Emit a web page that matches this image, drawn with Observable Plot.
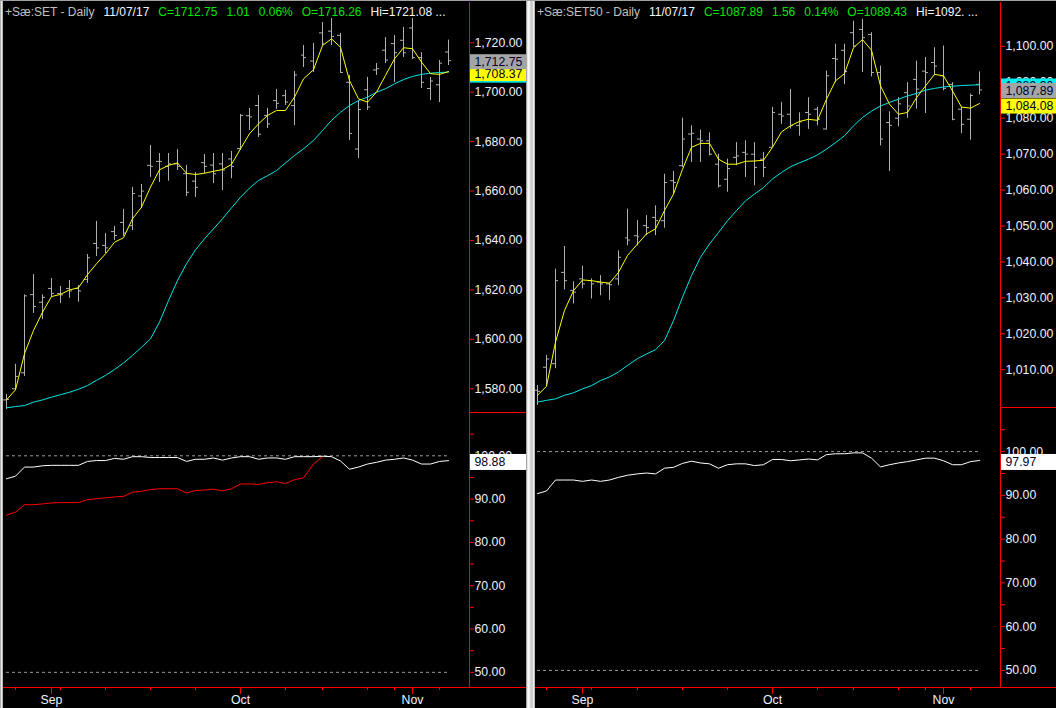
<!DOCTYPE html>
<html><head><meta charset="utf-8">
<script src="https://cdn.jsdelivr.net/npm/d3@7"></script>
<script src="https://cdn.jsdelivr.net/npm/@observablehq/plot@0.6"></script>
<style>
html,body{margin:0;padding:0;background:#000;}
#root{position:relative;width:1056px;height:708px;overflow:hidden;background:#000;font-family:"Liberation Sans",Arial,sans-serif;}
.abs{position:absolute;}
.title{position:absolute;top:5px;font-size:12px;line-height:14px;white-space:pre;z-index:5;}
.title span{margin-right:9px;}
.g{color:#00e600;} .w{color:#f4f6ff;} .n{color:#c0c0c0;}
.sep{position:absolute;top:0;height:708px;background:linear-gradient(to right,#707070 0,#dcdcdc 1px,#ffffff 3px,#c4c4c4 5px,#d8d8d8 7px,#ffffff 8px,#808080 9px);}
</style></head>
<body><div id="root">
<div class="abs" style="left:0;top:0;width:1056px;height:1px;background:#a0a0a0;z-index:6"></div>
<div class="sep" style="left:0;width:3px;background:linear-gradient(to right,#909090,#e8e8e8,#a0a0a0)"></div>
<div class="sep" style="left:526px;width:9px;"></div>
<div class="title" id="t1" style="left:5px"></div>
<div class="title" id="t2" style="left:537px"></div>
</div>
<script>
// ---------- data ----------
const dates = ["2017-08-25","2017-08-28","2017-08-29","2017-08-30","2017-08-31",
"2017-09-01","2017-09-04","2017-09-05","2017-09-06","2017-09-07","2017-09-08",
"2017-09-11","2017-09-12","2017-09-13","2017-09-14","2017-09-15",
"2017-09-18","2017-09-19","2017-09-20","2017-09-21","2017-09-22",
"2017-09-25","2017-09-26","2017-09-27","2017-09-28","2017-09-29",
"2017-10-02","2017-10-03","2017-10-04","2017-10-05","2017-10-06",
"2017-10-09","2017-10-10","2017-10-11","2017-10-12",
"2017-10-16","2017-10-17","2017-10-18","2017-10-19","2017-10-20",
"2017-10-24","2017-10-25","2017-10-27","2017-10-30","2017-10-31",
"2017-11-01","2017-11-02","2017-11-03","2017-11-06","2017-11-07"];

// SET
const setOpen  = [1575.5,1580,1586.5,1618.1,1615,1620.6,1618.5,1620.6,1620.6,1624.2,1638.8,1638,1643.6,1647.3,1646,1658,1670.4,1672,1670,1671,1667,1664,1671.5,1670.5,1671,1673,1677.2,1690.5,1694.6,1690.6,1696.6,1698.6,1694.6,1715,1712.6,1724,1724.7,1723,1704,1677,1701,1709,1717,1719.7,1721,1726,1714,1701.5,1703,1716.26];
const setHigh  = [1577.7,1589.9,1618,1626.2,1618,1624.6,1621.4,1623.8,1621.8,1634.3,1647.7,1642.8,1645.7,1652.6,1661.5,1662.7,1678.4,1675.2,1675.2,1676.8,1670.4,1667.5,1674.8,1675.2,1675.2,1676,1691,1693.4,1698.7,1693.4,1701.1,1700.7,1708.4,1718.9,1719.7,1728.2,1729.8,1723.8,1706.8,1696.6,1706,1711.6,1722.1,1722.9,1726.2,1729.8,1716,1706,1712.8,1721.08];
const setLow   = [1571.6,1579.3,1585,1610.5,1608,1617,1614.5,1616.6,1615,1622.6,1633.5,1634.7,1640,1641.7,1644,1653,1665.5,1663.5,1664,1668.3,1657.8,1657.4,1667,1663,1660.2,1665,1676.4,1684.5,1681.7,1685.3,1693,1694.6,1686.5,1710,1708,1718.9,1718.9,1707.6,1680.5,1673.2,1692.6,1706.8,1711.6,1703.9,1714,1713.2,1701.5,1696.6,1695.8,1710.8];
const setClose = [1575.7,1585,1617.6,1613.3,1617,1618.6,1618,1619.6,1619.6,1633,1637,1637,1642,1643,1659,1660,1670,1672,1671,1670,1659.5,1661.5,1670,1667,1668.5,1670,1690.6,1690,1683,1687.2,1695.5,1696,1707,1714,1710,1719.8,1722.5,1708,1683.3,1693,1694,1709.5,1713,1716,1716,1714,1704,1704.5,1711.74,1712.75];
const setMaShort = [1575.5,1579.6,1594.2,1603.6,1611,1617.3,1618.2,1620,1620.9,1626.2,1630.6,1634.6,1639.3,1641.1,1648.8,1653.5,1661.6,1668.6,1670.4,1671.4,1667.2,1666.7,1667.2,1668,1668.7,1670.8,1677.1,1683.2,1687.2,1690.6,1692.6,1692.6,1698,1705.4,1709.1,1718.9,1721.6,1718.2,1704.7,1697.3,1696,1700,1706.8,1713.5,1718,1717.6,1712.2,1707.5,1707.2,1708.37];
const setMaLong  = [1572.3,1572.8,1573.2,1574.6,1575.5,1576.6,1577.6,1578.6,1579.8,1581.3,1583.4,1585.4,1587.8,1590.4,1593.5,1596.8,1600.2,1607,1615.7,1623.8,1630.6,1636.2,1640.7,1644.7,1648.8,1653.2,1657.5,1661.2,1664.3,1666.2,1668.3,1671.4,1674.4,1677.1,1680.5,1684.5,1688.6,1691.9,1694.6,1696.6,1698,1700,1701.4,1703.4,1705.1,1706.4,1707.2,1707.7,1708,1708.1];
const setIndWhite = [94.7,95.3,97.4,97.4,97.7,97.8,97.8,97.8,97.8,98.7,98.9,98.9,99.4,99.2,99.8,99.8,99.6,99.6,99.6,99.6,98.7,99.2,99.2,99.5,99.0,99.5,99.8,99.8,99.2,99.5,99.5,99.2,99.8,99.8,99.8,99.9,99.8,98.8,96.9,97.4,98.1,98.5,99.0,99.2,99.5,99.0,98.1,98.1,98.7,98.88];
const setIndRed = [86.3,87.0,88.7,88.7,88.9,89.1,89.2,89.2,89.2,89.9,90.1,90.3,90.5,90.6,91.6,91.8,92.2,92.4,92.4,92.4,91.4,92.0,92.1,92.3,91.9,92.4,93.5,93.5,93.4,93.8,94.0,93.6,94.5,94.9,98.1,99.8,null,null,null,null,null,null,null,null,null,null,null,null,null,null];

// SET50
const s50Open  = [1004.3,1010.7,1011.7,1037.1,1032,1035.3,1034.8,1034.4,1033.9,1035.3,1046.7,1047.3,1050.1,1052.4,1051.5,1062.6,1066.8,1075.6,1074.2,1073.7,1067.2,1063,1069.1,1070.5,1070,1068.6,1071.9,1081.1,1081.1,1078,1081.6,1082.5,1077,1096.6,1098.9,1103.8,1104.7,1103.3,1092.7,1078.8,1080,1087.1,1090.8,1093.1,1095.5,1091.8,1089.4,1082.5,1079.7,1089.43];
const s50High  = [1005.6,1014,1038,1044.3,1034.5,1038.8,1035.3,1036.2,1034.1,1043.1,1054.7,1051.5,1052.9,1055.6,1064.4,1065.2,1080,1077.9,1076.7,1075.9,1070,1068.6,1073.2,1073.7,1073.2,1070.5,1083,1084.4,1088,1081.5,1085.7,1083,1093.1,1100.6,1100.6,1107,1107.5,1103.8,1094.5,1081.8,1085.7,1089.9,1095.9,1096.9,1099.6,1100.1,1089.9,1083,1086.7,1092.9];
const s50Low   = [1000.1,1005.2,1010.3,1032.2,1028.3,1032.5,1029.7,1030.6,1029.3,1033.4,1044.5,1044.5,1047.3,1047.3,1049.4,1058.9,1066.3,1067.7,1067.7,1069.5,1060.6,1059.4,1066.8,1063.5,1061.2,1063.5,1071.9,1078.3,1077,1075,1076.9,1077.9,1076.7,1089.9,1089.4,1099.6,1092.7,1091.5,1072.3,1065.2,1077.6,1080,1082.5,1081.3,1091.8,1087.6,1079.3,1075.7,1073.9,1086.5];
const s50Close = [1004,1013,1034.8,1034.8,1031.6,1033.9,1033.9,1033.9,1033.7,1041.3,1046.1,1047,1049.6,1051.5,1062.1,1062.1,1074.2,1075.8,1073.7,1070,1061.2,1066,1069.5,1070,1066.3,1066.3,1081.6,1080.6,1077.9,1079,1081.1,1079.7,1091.8,1096.4,1093,1100.1,1102.4,1092.7,1074.2,1078,1084,1083.4,1088.1,1092.7,1094.5,1088.3,1079.7,1078.3,1086.33,1087.89];
const s50MaShort = [1002.9,1005.4,1017.7,1026.5,1032,1035,1034.8,1034.4,1034.1,1037.1,1041.8,1045,1047.8,1049.2,1054.3,1058.9,1065.8,1071.9,1073,1073,1068.6,1067.2,1067.2,1068,1068.1,1068.3,1071.9,1076.2,1077.9,1079.1,1079.7,1079.4,1085.3,1090.4,1092.4,1099.6,1101.9,1098.9,1089,1083.9,1081.1,1081.6,1085.7,1089,1092.2,1091.8,1087.6,1083.1,1082.8,1084.08];
const s50MaLong  = [1001,1001.5,1001.9,1002.9,1003.6,1004.7,1005.6,1007,1008,1009.4,1011.2,1013.1,1014.4,1015.6,1018.1,1023.7,1030.2,1036.2,1041.3,1045,1048.2,1051.5,1054.3,1057,1058.9,1060.7,1063.1,1064.9,1066.5,1067.6,1068.6,1069.8,1071.4,1073.2,1075.1,1077.9,1080.2,1082,1083.4,1084.4,1085.3,1086.2,1086.9,1087.8,1088.3,1088.7,1088.9,1089.1,1089.2,1089.3];
const s50IndWhite = [90.4,91.0,93.5,93.5,93.5,93.2,93.5,93.2,93.5,94.1,94.6,94.9,95.1,94.9,96.2,96.4,97.3,97.8,97.4,97.2,96.2,97.0,97.2,97.2,96.8,97.0,98.2,98.2,97.9,98.1,98.3,98.1,99.3,99.5,99.5,99.7,99.7,98.5,96.5,97.0,97.4,97.7,98.1,98.5,98.5,97.9,97.0,97.0,97.7,97.97];

const setPriceTicks = [1580,1600,1620,1640,1660,1680,1700,1720];
const s50PriceTicks = [1010,1020,1030,1040,1050,1060,1070,1080,1090,1100];
const indTicks = [50,60,70,80,90,100];
const indMinorTicks = [55,65,75,85,95,105];
const indRefLines = [100,50];

// ---------- styling ----------
const RED = "#ff0000", BAR = "#b0b0b0", YELLOW = "#ffff00", CYAN = "#00e6e6", LABEL = "#eef2ff";
const fmt2 = d3.format(",.2f");
const fmtMonth = d3.utcFormat("%b");
const FONT = '"Liberation Sans", Arial, sans-serif';
const tickLen = 0.33;
const baseStyle = {background: "transparent", color: "#fff", fontFamily: FONT, fontSize: "12.3px", overflow: "hidden"};

const parsed = dates.map(s => new Date(s + "T00:00:00Z"));
const weekIdx = [], monthIdx = [];
parsed.forEach((d, i) => {
  if (i === 0) return;
  if (+d3.utcMonday.floor(d) !== +d3.utcMonday.floor(parsed[i - 1])) weekIdx.push(i);
  if (d.getUTCMonth() !== parsed[i - 1].getUTCMonth()) monthIdx.push(i);
});

function priceRows(o, h, l, c, ms, ml) {
  return dates.map((s, i) => ({i, date: parsed[i], o: o[i], h: h[i], l: l[i], c: c[i], ms: ms[i], ml: ml[i]}));
}

function valueBox(b, xMax, ppu) {
  const h = (b.h || 15) / ppu;
  const c = b.value - (b.dy || 0) / ppu;
  return [
    Plot.rect([b], {x1: xMax, x2: xMax + 12, y1: c - h / 2, y2: c + h / 2, fill: b.fill, insetLeft: 1}),
    Plot.text([b], {x: xMax, y: c, text: d => fmt2(d.value), textAnchor: "start", dx: 5, fill: b.ink || "#000028"})
  ];
}

function topPanel(cfg) {
  const {rows, xDomain, yDomain, width, height, mr, ticks, boxes} = cfg;
  const xMax = xDomain[1], yMin = yDomain[0];
  const ppu = (height - 1) / (yDomain[1] - yDomain[0]);
  return Plot.plot({
    width, height, marginTop: 0, marginBottom: 1, marginLeft: 0, marginRight: mr,
    style: baseStyle,
    x: {domain: xDomain, axis: null, round: true, label: null},
    y: {domain: yDomain, label: null},
    marks: [
      Plot.ruleX(rows, {x: "i", y1: "l", y2: "h", stroke: BAR}),
      Plot.ruleY(rows, {y: "o", x1: d => d.i - tickLen, x2: "i", stroke: BAR}),
      Plot.ruleY(rows, {y: "c", x1: "i", x2: d => d.i + tickLen, stroke: BAR}),
      Plot.line(rows, {x: "i", y: "ml", stroke: CYAN, strokeWidth: 1}),
      Plot.line(rows, {x: "i", y: "ms", stroke: YELLOW, strokeWidth: 1}),
      Plot.ruleX([xMax], {stroke: RED}),
      Plot.ruleY([yMin], {x1: xMax, x2: xMax + 12, stroke: RED}),
      Plot.axisY(ticks, {anchor: "right", tickSize: 4, tickPadding: 1, stroke: RED, fill: LABEL, tickFormat: fmt2, label: null}),
      ...boxes.flatMap(b => valueBox(b, xMax, ppu))
    ]
  });
}

function lowerPanel(cfg) {
  const {rows, xDomain, yDomain, width, height, mr, box} = cfg;
  const mb = 21;
  const xMax = xDomain[1], yMin = yDomain[0];
  const ppu = (height - mb) / (yDomain[1] - yDomain[0]);
  const marks = [
    Plot.ruleY(indRefLines, {x1: rows[0].i, x2: rows[rows.length - 1].i, stroke: "#9a9a9a", strokeDasharray: "3,3"})
  ];
  if (rows.some(d => d.b != null)) marks.push(Plot.line(rows, {x: "i", y: "b", stroke: RED, strokeWidth: 1}));
  marks.push(
    Plot.line(rows, {x: "i", y: "a", stroke: "#ffffff", strokeWidth: 1}),
    Plot.ruleX([xMax], {stroke: RED}),
    Plot.ruleY([yMin], {x1: xDomain[0] - 2, x2: xMax + 12, stroke: RED}),
    Plot.axisY(indMinorTicks, {anchor: "right", tickSize: 4, stroke: RED, tickFormat: () => "", label: null}),
    Plot.axisY(indTicks, {anchor: "right", tickSize: 4, tickPadding: 1, stroke: RED, fill: LABEL, tickFormat: fmt2, label: null}),
    Plot.axisX(weekIdx, {anchor: "bottom", tickSize: 3, stroke: RED, tickFormat: () => "", label: null}),
    Plot.axisX(monthIdx, {anchor: "bottom", tickSize: 7, tickPadding: 1, stroke: RED, fill: LABEL, tickFormat: i => fmtMonth(parsed[i]), label: null}),
    ...valueBox(box, xMax, ppu)
  );
  return Plot.plot({
    width, height, marginTop: 0, marginBottom: mb, marginLeft: 0, marginRight: mr,
    style: baseStyle,
    x: {domain: xDomain, round: true, label: null},
    y: {domain: yDomain, label: null},
    marks
  });
}

function place(node, left, top) {
  const div = document.createElement("div");
  div.className = "abs";
  div.style.left = left + "px";
  div.style.top = top + "px";
  div.appendChild(node);
  document.getElementById("root").appendChild(div);
}

// ---------- left: SET ----------
const setRows = priceRows(setOpen, setHigh, setLow, setClose, setMaShort, setMaLong);
const setInd = dates.map((s, i) => ({i, a: setIndWhite[i], b: setIndRed[i]}));
const xL = [-0.333, 51.36];
place(topPanel({
  rows: setRows, xDomain: xL, yDomain: [1570.4, 1736.3], width: 523, height: 411, mr: 57, ticks: setPriceTicks,
  boxes: [
    {value: setMaLong[49], fill: CYAN, dy: 3.5},
    {value: setMaShort[49], fill: YELLOW, dy: 2.5},
    {value: setClose[49], fill: "#a4a4a4", dy: 1.5}
  ]
}), 3, 2);
place(lowerPanel({
  rows: setInd, xDomain: xL, yDomain: [46.5, 110.0], width: 523, height: 296, mr: 57,
  box: {value: setIndWhite[49], fill: "#ffffff", dy: 1.8, h: 16}
}), 3, 412);

// ---------- right: SET50 ----------
const s50Rows = priceRows(s50Open, s50High, s50Low, s50Close, s50MaShort, s50MaLong);
const s50Ind = dates.map((s, i) => ({i, a: s50IndWhite[i], b: null}));
const xR = [-0.255, 51.3];
place(topPanel({
  rows: s50Rows, xDomain: xR, yDomain: [999.5, 1112.2], width: 521, height: 406, mr: 56, ticks: s50PriceTicks,
  boxes: [
    {value: s50MaLong[49], fill: "#00f0f0", dy: 1.7},
    {value: s50MaShort[49], fill: YELLOW, dy: 3},
    {value: s50Close[49], fill: "#a4a4a4", dy: 1.2}
  ]
}), 535, 2);
place(lowerPanel({
  rows: s50Ind, xDomain: xR, yDomain: [46.1, 110.07], width: 521, height: 301, mr: 56,
  box: {value: s50IndWhite[49], fill: "#ffffff", dy: 2, h: 16}
}), 535, 407);

// ---------- titles ----------
function title(id, parts) {
  const el = document.getElementById(id);
  parts.forEach(([cls, txt]) => {
    const s = document.createElement("span");
    s.className = cls; s.textContent = txt; el.appendChild(s);
  });
}
const chg = (c, p) => d3.format(".2f")(c - p);
const pct = (c, p) => d3.format(".2f")((c - p) / p * 100) + "%";
title("t1", [["n", "+Sæ:SET - Daily"], ["w", "11/07/17"], ["g", "C=" + setClose[49].toFixed(2)], ["g", chg(setClose[49], setClose[48])], ["g", pct(setClose[49], setClose[48])], ["g", "O=" + setOpen[49].toFixed(2)], ["w", "Hi=" + setHigh[49].toFixed(2) + " ..."]]);
title("t2", [["n", "+Sæ:SET50 - Daily"], ["w", "11/07/17"], ["g", "C=" + s50Close[49].toFixed(2)], ["g", chg(s50Close[49], s50Close[48])], ["g", pct(s50Close[49], s50Close[48])], ["g", "O=" + s50Open[49].toFixed(2)], ["w", "Hi=1092. ..."]]);
</script>
</body></html>
